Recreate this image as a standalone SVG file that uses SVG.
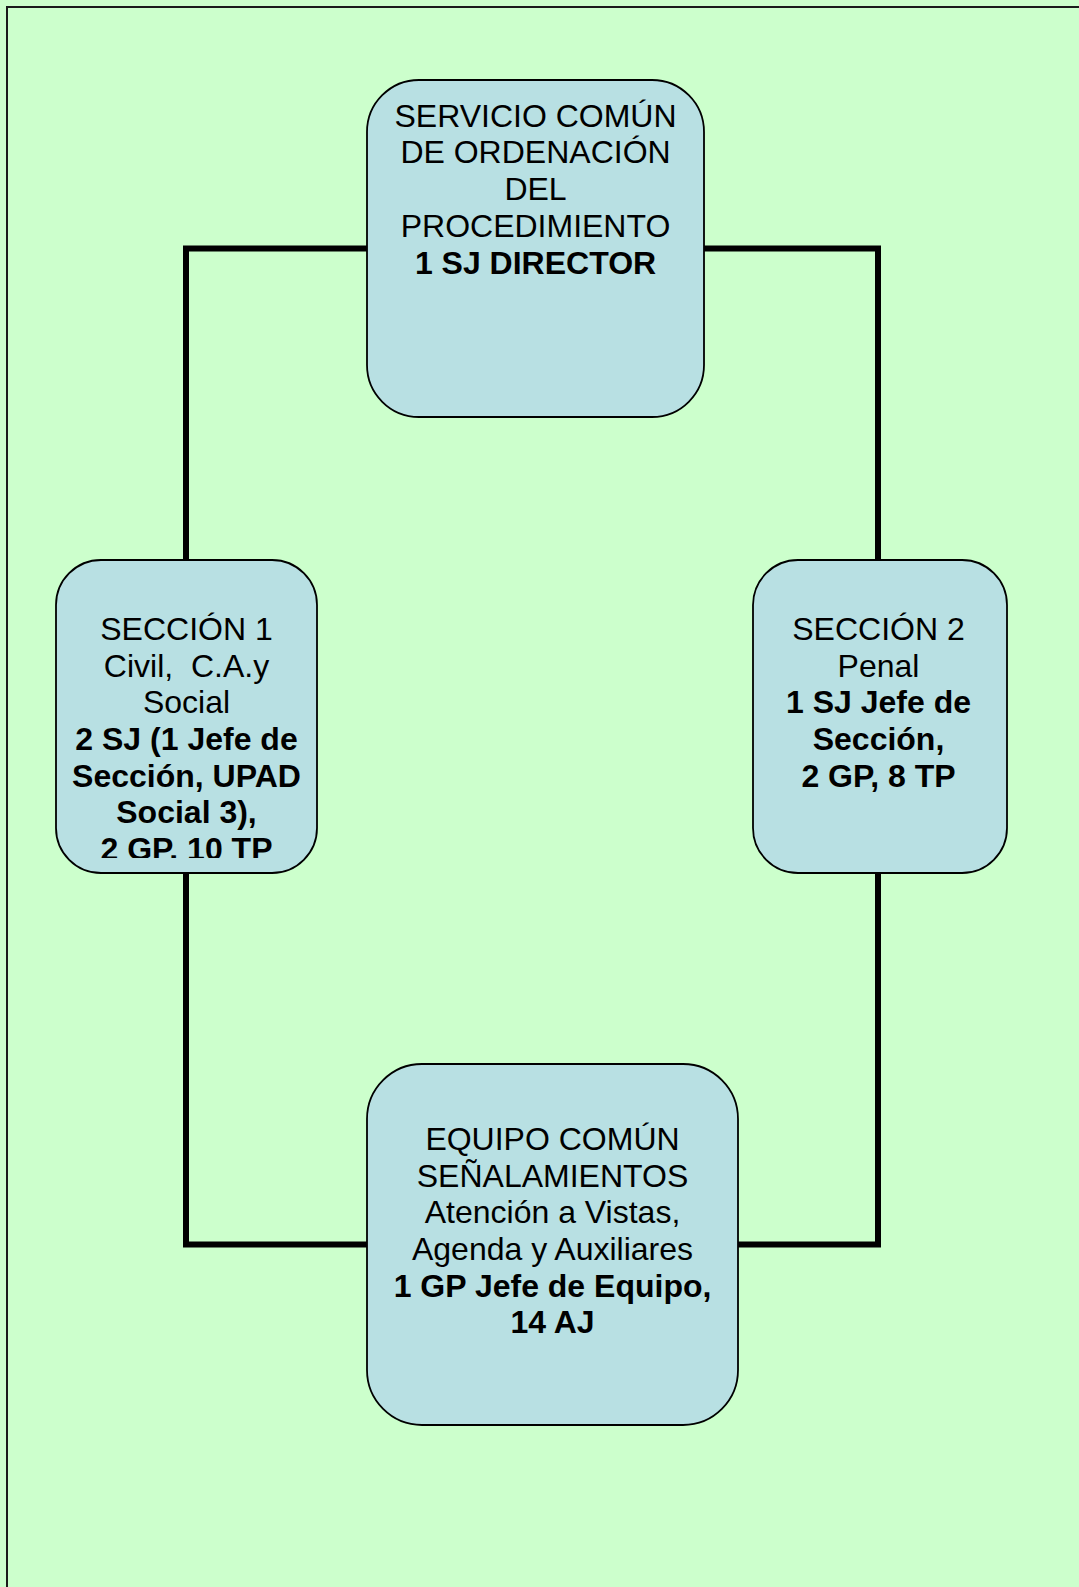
<svg xmlns="http://www.w3.org/2000/svg" width="1079" height="1587" viewBox="0 0 1079 1587">
<style>
.node{fill:#B8E0E3;stroke:#000;stroke-width:1.8}
.conn{fill:none;stroke:#000;stroke-width:6;stroke-linejoin:miter}
text{font-family:"Liberation Sans",Arial,sans-serif;font-size:32px;fill:#000;text-anchor:middle}
.b{font-weight:bold;font-size:32px}
</style>
<defs>
<clipPath id="clipLeft"><rect x="56" y="560" width="261" height="298"/></clipPath>
</defs>
<rect x="0" y="0" width="1079" height="1587" fill="#CCFFCC"/>
<rect x="7" y="7" width="1090" height="1600" fill="#CCFFCC" stroke="#1a1a1a" stroke-width="2"/>
<g id="connectors">
<polyline class="conn" points="367,248.5 186,248.5 186,560"/>
<polyline class="conn" points="186,873 186,1244.5 367,1244.5"/>
<polyline class="conn" points="704,248.5 878,248.5 878,560"/>
<polyline class="conn" points="878,873 878,1244.5 738,1244.5"/>
</g>
<g id="node-servicio">
<rect class="node" x="367" y="80" width="337" height="337" rx="52" ry="52"/>
<text x="535.5" y="126.5">SERVICIO COMÚN</text>
<text x="535.5" y="163.4">DE ORDENACIÓN</text>
<text x="535.5" y="200.3">DEL</text>
<text x="535.5" y="237.2">PROCEDIMIENTO</text>
<text class="b" x="535.5" y="274.1">1 SJ DIRECTOR</text>
</g>
<g id="node-seccion1">
<rect class="node" x="56" y="560" width="261" height="313" rx="45" ry="45"/>
<g clip-path="url(#clipLeft)">
<text x="186.5" y="640">SECCIÓN 1</text>
<text x="186.5" y="676.7" xml:space="preserve">Civil,  C.A.y</text>
<text x="186.5" y="713.3">Social</text>
<text class="b" x="186.5" y="750">2 SJ (1 Jefe de</text>
<text class="b" x="186.5" y="786.7">Sección, UPAD</text>
<text class="b" x="186.5" y="823.3">Social 3),</text>
<text class="b" x="186.5" y="860">2 GP. 10 TP</text>
</g>
</g>
<g id="node-seccion2">
<rect class="node" x="753" y="560" width="254" height="313" rx="45" ry="45"/>
<text x="878.5" y="640">SECCIÓN 2</text>
<text x="878.5" y="676.7">Penal</text>
<text class="b" x="878.5" y="713.3">1 SJ Jefe de</text>
<text class="b" x="878.5" y="750">Sección,</text>
<text class="b" x="878.5" y="786.7">2 GP, 8 TP</text>
</g>
<g id="node-equipo">
<rect class="node" x="367" y="1064" width="371" height="361" rx="55" ry="55"/>
<text x="552.5" y="1150">EQUIPO COMÚN</text>
<text x="552.5" y="1186.7">SEÑALAMIENTOS</text>
<text x="552.5" y="1223.3">Atención a Vistas,</text>
<text x="552.5" y="1260">Agenda y Auxiliares</text>
<text class="b" x="552.5" y="1296.7">1 GP Jefe de Equipo,</text>
<text class="b" x="552.5" y="1333.3">14 AJ</text>
</g>
</svg>
